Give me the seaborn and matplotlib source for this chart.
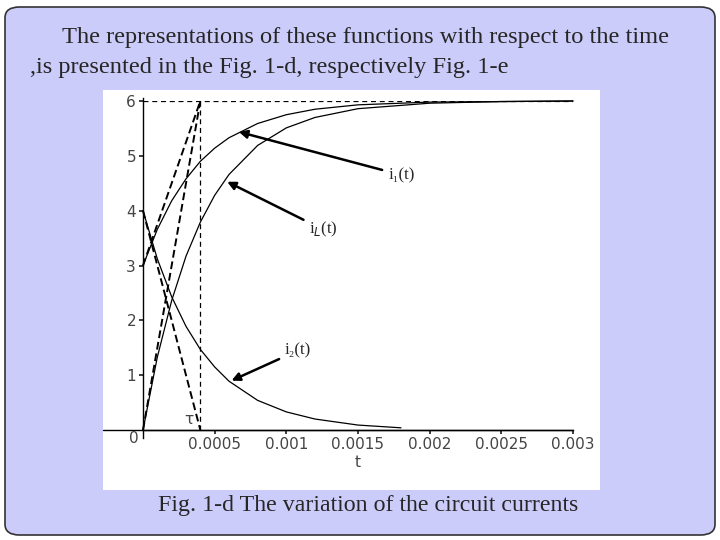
import matplotlib.pyplot as plt
import matplotlib.patches as mpatches
import seaborn as sns

sns.set_theme(style="white")
plt.rcParams['font.family'] = ['DejaVu Sans']

# values
t_ms = [0, 0.0001, 0.0002, 0.0003, 0.0004, 0.0005, 0.0006, 0.0008, 0.001,
        0.0012, 0.0015, 0.002, 0.0025, 0.003]
i_L = [0, 1.33, 2.36, 3.17, 3.79, 4.28, 4.66, 5.19, 5.51, 5.70, 5.86, 5.96, 5.99, 6.0]
i_1 = [3, 3.66, 4.18, 4.58, 4.90, 5.14, 5.33, 5.59, 5.75, 5.85, 5.93, 5.98, 5.99, 6.0]
t_2 = [0, 0.0001, 0.0002, 0.0003, 0.0004, 0.0005, 0.0006, 0.0008, 0.001,
       0.0012, 0.0015, 0.0018]
i_2 = [4, 3.12, 2.43, 1.89, 1.47, 1.15, 0.89, 0.54, 0.33, 0.2, 0.09, 0.04]
tau = 0.0004
x_ticks = [0.0005, 0.001, 0.0015, 0.002, 0.0025, 0.003]
x_labels = ["0.0005", "0.001", "0.0015", "0.002", "0.0025", "0.003"]
y_ticks = [1, 2, 3, 4, 5, 6]

fig = plt.figure(figsize=(7.2, 5.4), dpi=100)
fig.patch.set_facecolor("white")
fig.patches.append(mpatches.FancyBboxPatch((5 / 720, 5 / 540), 710 / 720, 528 / 540,
                   boxstyle="round,pad=0,rounding_size=0.02", transform=fig.transFigure,
                   facecolor="#ccccfa", edgecolor="#333333", linewidth=1.2, zorder=-2))
fig.patches.append(mpatches.Rectangle((103 / 720, 50 / 540), 497 / 720, 400 / 540,
                   transform=fig.transFigure, facecolor="white", edgecolor="none", zorder=-1))

serif = ['Liberation Serif', 'DejaVu Serif']
fig.text(62 / 720, 1 - 38 / 540, "The representations of these functions with respect to the time",
         fontsize=17.6, family=serif, va="center")
fig.text(30 / 720, 1 - 68 / 540, ",is presented in the Fig. 1-d, respectively Fig. 1-e",
         fontsize=17.6, family=serif, va="center")
fig.text(158 / 720, 1 - 505 / 540, "Fig. 1-d The variation of the circuit currents",
         fontsize=17.2, family=serif, va="center")

ax = fig.add_axes([143 / 720, 110 / 540, 430 / 720, 329 / 540])
ax.set_zorder(5)
ax.set_facecolor("none")
ax.set_xlim(0, 0.003)
ax.set_ylim(0, 6)
for s in ["top", "right"]:
    ax.spines[s].set_visible(False)
for s in ["left", "bottom"]:
    ax.spines[s].set_color("black")
    ax.spines[s].set_linewidth(1)
ax.spines["left"].set_bounds(-0.15, 6.05)
ax.plot([-0.00028, 0.003], [0, 0], color="black", lw=1, clip_on=False)
ax.set_xticks(x_ticks)
ax.set_xticklabels(x_labels, fontsize=11, color="#444444")
ax.set_yticks(y_ticks)
ax.set_yticklabels([str(v) for v in y_ticks], fontsize=11, color="#444444")
ax.tick_params(length=3, direction="out", pad=2, left=True, bottom=True)
ax.text(-0.00003, -0.02, "0", ha="right", va="top", fontsize=11, color="#444444")
ax.text(tau - 0.00011, 0.05, "τ", fontsize=11, color="#444444", va="bottom")
ax.set_xlabel("t", fontsize=11, color="#444444", labelpad=2)

kw = dict(color="black", lw=0.9, clip_on=False)
sns.lineplot(x=t_ms, y=i_L, ax=ax, **kw)
sns.lineplot(x=t_ms, y=i_1, ax=ax, **kw)
sns.lineplot(x=t_2, y=i_2, ax=ax, **kw)
ax.plot([0, 0], [0, i_1[0]], color="black", lw=1.3)

dk = dict(color="black", lw=1.4, ls=(0, (4, 2)), clip_on=False)
ax.plot([0, tau], [0, 6], **dk)
ax.plot([0, tau], [i_1[0], 6], **dk)
ax.plot([0, tau], [i_2[0], 0], **dk)
ax.plot([0, 0.003], [6, 6], color="black", lw=0.9, ls=(0, (4, 3)))
ax.plot([tau, tau], [0, 6], color="black", lw=0.9, ls=(0, (4, 3)))

ap = dict(arrowstyle="-|>", color="black", lw=1.8, mutation_scale=12)
ax.annotate("i₁(t)", xy=(0.00065, 5.45), xytext=(0.00171, 4.65),
            arrowprops=ap, fontsize=12, family=serif, va="center")
ax.annotate("i$_L$(t)", xy=(0.00057, 4.55), xytext=(0.00116, 3.65),
            arrowprops=ap, fontsize=12, family=serif, va="center")
ax.annotate("i₂(t)", xy=(0.0006, 0.88), xytext=(0.00099, 1.45),
            arrowprops=ap, fontsize=12, family=serif, va="center")

fig.savefig("out.png", dpi=100)
